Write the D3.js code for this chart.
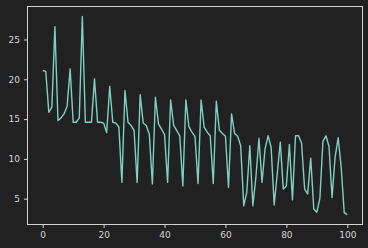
<!DOCTYPE html>
<meta charset="utf-8">
<style>
body { margin: 0; background: #212121; }
svg { display: block; }
.axis text { font: 9px "DejaVu Sans", sans-serif; fill: #d4d4d4; }
.axis line, .axis path { stroke: #d4d4d4; }
</style>
<svg width="368" height="248"></svg>
<script src="https://d3js.org/d3.v7.min.js"></script>
<script>

var values = [
  21.1, 21.0, 15.85, 16.5, 26.6, 14.8, 15.15, 15.65, 16.6, 21.3,
  14.6, 14.6, 15.15, 27.9, 14.6, 14.6, 14.6, 20.05, 14.6, 14.6,
  14.5, 13.3, 19.1, 14.6, 14.5, 14.0, 7.05, 18.6, 14.6, 14.2,
  13.55, 7.05, 18.05, 14.5, 14.2, 13.1, 6.85, 17.75, 14.4, 13.75,
  13.05, 7.05, 17.4, 14.2, 13.55, 12.9, 6.6, 17.4, 14.05, 13.35,
  12.8, 6.9, 17.4, 14.0, 13.35, 12.9, 6.9, 17.25, 13.6, 13.2,
  12.85, 6.4, 15.65, 13.2, 12.85, 11.65, 4.1, 5.8, 11.65, 4.1,
  7.7, 12.6, 7.05, 11.25, 12.9, 11.45, 4.2, 8.1, 12.1, 6.2,
  6.6, 11.8, 4.85, 12.9, 12.9, 11.95, 6.2, 5.6, 10.1, 3.7,
  3.3, 5.0, 12.2, 12.9, 11.55, 5.15, 10.2, 12.65, 8.95, 3.25,
  3.0
];
var xTicks = [0, 20, 40, 60, 80, 100];
var yTicks = [5, 10, 15, 20, 25];

var svg = d3.select("svg"),
    margin = {top: 6.5, right: 5.5, bottom: 23.5, left: 27.5},
    width = +svg.attr("width") - margin.left - margin.right,
    height = +svg.attr("height") - margin.top - margin.bottom;

var g = svg.append("g")
    .attr("transform", "translate(" + margin.left + "," + margin.top + ")");

// matplotlib-like 5% padding around the data
var n = values.length - 1;
var ymin = d3.min(values), ymax = d3.max(values), yr = ymax - ymin;

var x = d3.scaleLinear().domain([-0.05 * n, n * 1.05]).range([0, width]);
var y = d3.scaleLinear().domain([ymin - 0.05 * yr, ymax + 0.05 * yr]).range([height, 0]);

g.append("g")
    .attr("class", "axis")
    .attr("transform", "translate(0," + height + ")")
    .call(d3.axisBottom(x).tickValues(xTicks).tickSize(3.5).tickPadding(4).tickSizeOuter(0))
    .select(".domain").remove();

g.append("g")
    .attr("class", "axis")
    .call(d3.axisLeft(y).tickValues(yTicks).tickSize(3.5).tickPadding(4).tickSizeOuter(0))
    .select(".domain").remove();

// frame
g.append("rect")
    .attr("width", width)
    .attr("height", height)
    .attr("fill", "none")
    .attr("stroke", "#d4d4d4")
    .attr("stroke-width", 1);

var line = d3.line()
    .x(function(d, i) { return x(i); })
    .y(function(d) { return y(d); });

g.append("path")
    .datum(values)
    .attr("fill", "none")
    .attr("stroke", "#7fd1bd")
    .attr("stroke-width", 1.4)
    .attr("stroke-linejoin", "round")
    .attr("d", line);

</script>
